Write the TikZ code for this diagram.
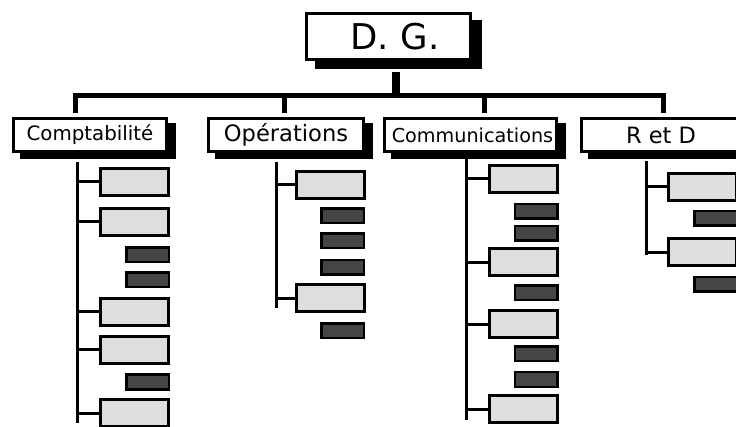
\documentclass[tikz,border=0pt]{standalone}
\usepackage{fontspec}
\setmainfont{DejaVu Sans}
\usetikzlibrary{shadows}
\definecolor{lightfill}{HTML}{DEDEDE}
\definecolor{darkfill}{HTML}{454545}
\begin{document}
\begin{tikzpicture}[x=1pt,y=-1pt,
  deptbox/.style={draw=black,fill=white,line width=3pt,inner sep=0pt,
    minimum height=33pt,
    drop shadow={shadow xshift=8pt,shadow yshift=-6pt,fill=black,draw=black,line width=3pt,opacity=1}},
  topbox/.style={draw=black,fill=white,line width=3pt,inner sep=0pt,
    minimum width=164pt,minimum height=46pt,font=\fontsize{35.5}{40}\selectfont,
    drop shadow={shadow xshift=10pt,shadow yshift=-8pt,fill=black,draw=black,line width=3pt,opacity=1}},
  lb/.style={draw=black,fill=lightfill,line width=3pt,minimum width=68pt,minimum height=27pt,inner sep=0pt},
  db/.style={draw=black,fill=darkfill,line width=2.5pt,minimum width=42.5pt,minimum height=14.5pt,inner sep=0pt},
  trunk/.style={line width=3pt},
  link/.style={line width=3pt},
  tick/.style={line width=5pt},
]
\path[use as bounding box,clip] (0,0) rectangle (736,427);

% top box
\node[topbox] (dg) at (388.5,36.5) {\hspace*{13pt}D.\ G.};
\coordinate (stemtop) at (396,72);
\coordinate (barL) at (76,95.5);
\coordinate (barR) at (660.5,95.5);
\draw[line width=8pt] (stemtop) -- (stemtop |- barL);
\draw[line width=5pt] (barL) -- (barR);

% department boxes
\node[deptbox,minimum width=153pt,font=\fontsize{19.8}{23}\selectfont] (comp) at (90,135) {Comptabilité};
\node[deptbox,minimum width=155pt,font=\fontsize{22.6}{26}\selectfont] (oper) at (286,135) {Opérations};
\node[deptbox,minimum width=172pt,font=\fontsize{19.2}{23}\selectfont] (comm) at (470.5,135.5) {\hspace*{2pt}Communications\hspace*{-2pt}};
\node[deptbox,minimum width=159pt,font=\fontsize{22.5}{26}\selectfont] (rd) at (661,135) {R et D};

% ticks from bar
\coordinate (tA) at (75.5,93);
\coordinate (tB) at (284.5,93);
\coordinate (tC) at (484.5,93);
\coordinate (tD) at (663,93);
\foreach \t in {tA,tB,tC,tD}{
  \draw[tick] (\t) -- ++(0,20);
}

% trunks
\coordinate (vA) at (77,162);   \coordinate (vAb) at (77,423);
\coordinate (vB) at (276,162);  \coordinate (vBb) at (276,308);
\coordinate (vC) at (466,159);  \coordinate (vCb) at (466,420);
\coordinate (vD) at (646,161);  \coordinate (vDb) at (646,255);
\draw[trunk] (vA) -- (vAb);
\draw[trunk] (vB) -- (vBb);
\draw[trunk] (vC) -- (vCb);
\draw[trunk] (vD) -- (vDb);

% Comptabilite children
\node[lb] (a1) at (134.5,182) {};
\node[lb] (a2) at (134.5,222) {};
\node[db] (a3) at (147.5,255) {};
\node[db] (a4) at (147.5,280) {};
\node[lb] (a5) at (134.5,312) {};
\node[lb] (a6) at (134.5,350) {};
\node[db] (a7) at (147.5,382) {};
\node[lb] (a8) at (134.5,413) {};
\foreach \n in {a1,a2,a5,a6,a8}{
  \draw[link] (\n.west) -- (\n.west -| vA);
}

% Operations children
\node[lb] (b1) at (330,185) {};
\node[db] (b2) at (342.5,216) {};
\node[db] (b3) at (342.5,241) {};
\node[db] (b4) at (342.5,267.5) {};
\node[lb] (b5) at (330,298.5) {};
\node[db] (b6) at (342.5,331) {};
\foreach \n in {b1,b5}{
  \draw[link] (\n.west) -- (\n.west -| vB);
}

% Communications children
\node[lb] (c1) at (523,179) {};
\node[db] (c2) at (536,211.5) {};
\node[db] (c3) at (536,233.5) {};
\node[lb] (c4) at (523,262.5) {};
\node[db] (c5) at (536,293) {};
\node[lb] (c6) at (523,324.5) {};
\node[db] (c7) at (536,354) {};
\node[db] (c8) at (536,379.5) {};
\node[lb] (c9) at (523,409) {};
\foreach \n in {c1,c4,c6,c9}{
  \draw[link] (\n.west) -- (\n.west -| vC);
}

% R et D children
\node[lb] (d1) at (702.5,187) {};
\node[db] (d2) at (715.5,218.5) {};
\node[lb] (d3) at (702.5,252.5) {};
\node[db] (d4) at (715.5,284.5) {};
\foreach \n in {d1,d3}{
  \draw[link] (\n.west) -- (\n.west -| vD);
}
\end{tikzpicture}
\end{document}
